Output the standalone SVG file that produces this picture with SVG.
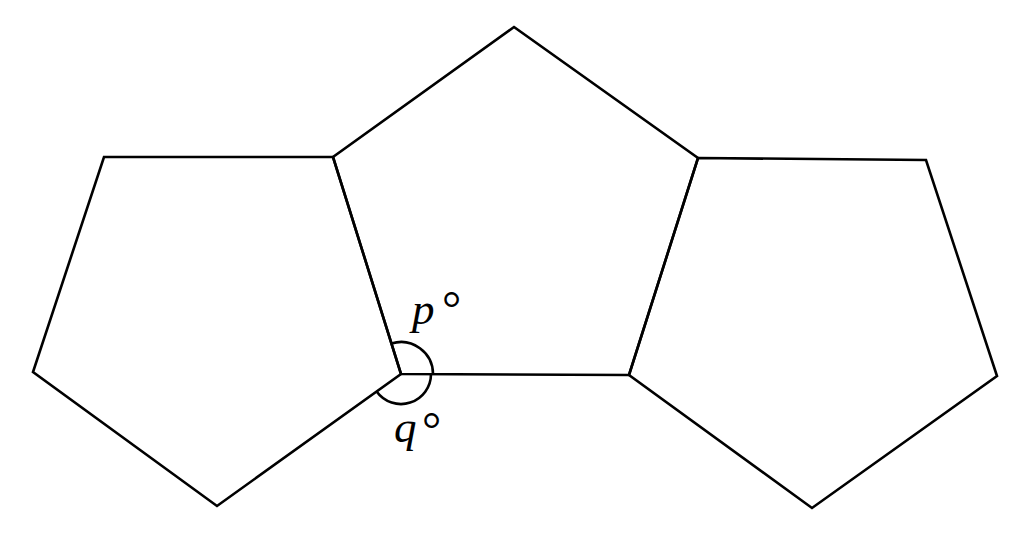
<svg xmlns="http://www.w3.org/2000/svg" width="1024" height="545" viewBox="0 0 1024 545">
<style>
.e{fill:none;stroke:#000;stroke-width:2.6;stroke-linejoin:miter}
.a{fill:none;stroke:#000;stroke-width:2.6}
.t{font-family:"Liberation Serif",serif;font-style:italic;font-size:45px;fill:#000}
.d{font-family:"Liberation Serif",serif;font-size:48px;fill:#000}
</style>
<rect width="1024" height="545" fill="#fff"/>
<g id="center-pentagon"><polygon class="e" points="514,27 698,158 629,375 401,374 333,157"/></g>
<g id="left-pentagon"><polygon class="e" points="333,157 104,157 33,372 217,506 401,374"/></g>
<g id="right-pentagon"><polygon class="e" points="698,158 926,160 997,376 812,508 629,375"/></g>
<g id="angles">
<path class="a" d="M391.4,343.5 A32,32 0 0 1 433,374"/>
<path class="a" d="M431,374 A30,30 0 0 1 376.6,391.5"/>
<text class="t" x="412" y="324">p</text>
<text class="d" x="442" y="325">°</text>
<text class="t" x="394" y="442">q</text>
<text class="d" x="422" y="446">°</text>
</g>
</svg>
